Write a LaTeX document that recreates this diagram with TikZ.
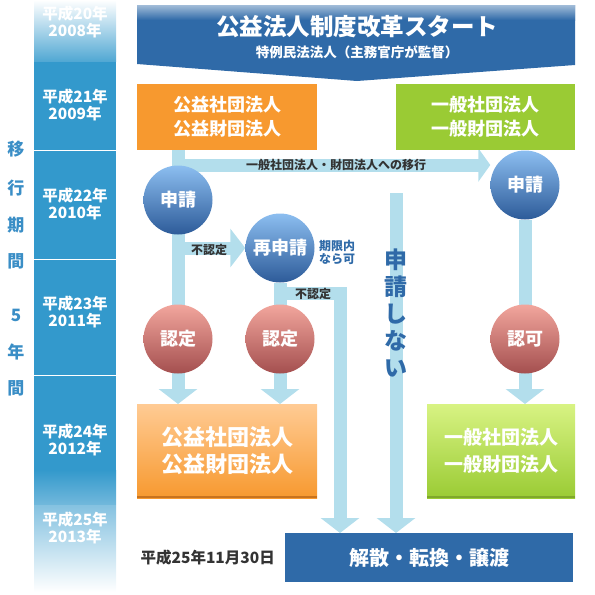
\documentclass[tikz,border=0pt]{standalone}
\usepackage{fontspec}
\setmainfont{Noto Sans CJK JP}
\usepackage{tikz}
\usetikzlibrary{arrows.meta,backgrounds,positioning}
\definecolor{Band}{HTML}{3399CC}
\definecolor{Navy}{HTML}{2F6AA8}
\definecolor{Flow}{HTML}{B3DEEC}
\definecolor{Orange}{HTML}{F7992F}
\definecolor{OrangeLight}{HTML}{FFCB94}
\definecolor{OrangeDark}{HTML}{C8731E}
\definecolor{Green}{HTML}{9ACB34}
\definecolor{GreenLight}{HTML}{D8F383}
\definecolor{GreenDark}{HTML}{7FA82A}
\definecolor{BallBlue}{HTML}{8CBEF0}
\definecolor{BallBlueDark}{HTML}{2D5B99}
\definecolor{BallRed}{HTML}{F2A69D}
\definecolor{BallRedDark}{HTML}{A44F4F}
\definecolor{Ink}{HTML}{333333}
\definecolor{SideBlue}{HTML}{3A8EC6}
\tikzset{year/.style={text=white,font=\bfseries\fontsize{15.5}{16.5}\selectfont,align=center,inner sep=0pt},org/.style={outer sep=0pt,inner sep=0pt,text=white,align=center,font=\bfseries\fontsize{18}{24}\selectfont},ball/.style={circle,minimum size=69pt,inner sep=0pt,text=white,font=\bfseries\fontsize{18}{18}\selectfont},blueball/.style={ball,top color=BallBlue,bottom color=BallBlueDark},redball/.style={ball,top color=BallRed,bottom color=BallRedDark},flow/.style={line width=13pt,draw=Flow,-{Triangle[width=38pt,length=15pt]}},tag/.style={text=Ink,font=\bfseries\fontsize{12}{13}\selectfont,inner sep=0pt,align=center},sidelabel/.style={text=SideBlue,font=\bfseries\fontsize{17}{17}\selectfont,inner sep=0pt}}

\begin{document}
\begin{tikzpicture}[x=1pt,y=-1pt]
      \useasboundingbox (0,0) rectangle (595,595);
      % year column
      \shade[top color=white,bottom color=Band!85!white] (34,0) rectangle (116,61);
      \fill[Band] (34,62) rectangle (116,150);
      \fill[Band] (34,151) rectangle (116,259);
      \fill[Band] (34,260) rectangle (116,375);
      \fill[Band] (34,376) rectangle (116,470);
      \shade[top color=Band,bottom color=Band!70!white] (34,470) rectangle (116,504);
      \shade[top color=Band!60!white,bottom color=white] (34,505) rectangle (116,592);
      \foreach \y/\a/\b in {22/20/2008,105/21/2009,204/22/2010,312/23/2011,440/24/2012,528/25/2013}
        \node[year] (year\b) at (75,\y) {平成\a 年\\\b 年};
      \foreach \ch/\y [count=\i] in {移/149,行/188,期/225,間/261,5/315,年/352,間/388}
        \node[sidelabel] (side\i) at (16,\y) {\ch};
      % banner
      \fill[Navy] (137,5) -- (575,5) -- (575,65) -- (357,81) -- (137,64) -- cycle;
      \shade[top color=Navy!45!white,bottom color=Navy] (137,5) rectangle (575,20);
      \node[text=white,font=\bfseries\fontsize{23.5}{24}\selectfont] (title) at (357,27) {公益法人制度改革スタート};
      \node[text=white,font=\bfseries\fontsize{13.5}{14}\selectfont] (subtitle) at (357,52) {特例民法法人（主務官庁が監督）};
      % organisations
      \node[org,fill=Orange,minimum width=180pt,minimum height=66pt] (orgTop) at (227,117) {公益社団法人\\公益財団法人};
      \node[org,fill=Green,minimum width=179pt,minimum height=66pt] (genTop) at (485.5,117) {一般社団法人\\一般財団法人};
      \node[org,top color=OrangeLight,bottom color=Orange,minimum width=180pt,minimum height=94pt,font=\bfseries\fontsize{22}{27}\selectfont] (koueki) at (227,451) {公益社団法人\\公益財団法人};
      \node[org,top color=GreenLight,bottom color=Green,minimum width=148pt,minimum height=94pt,font=\bfseries\fontsize{19}{27}\selectfont] (ippan) at (501,451) {一般社団法人\\一般財団法人};
      \draw[OrangeDark,line width=2pt] ([yshift=1pt]koueki.south west) -- ([yshift=1pt]koueki.south east);
      \draw[GreenDark,line width=2pt] ([yshift=1pt]ippan.south west) -- ([yshift=1pt]ippan.south east);
      \node[org,fill=Navy,minimum width=288pt,minimum height=49pt,font=\bfseries\fontsize{20}{20}\selectfont] (kaisan) at (429,557.5) {解散・転換・譲渡};
      \node[tag,left=10pt of kaisan,font=\bfseries\fontsize{15.5}{16}\selectfont] (deadlineDate) {平成25年11月30日};
      % balls
      \node[blueball] (shinseiA) at (178,200) {申請};
      \node[blueball] (saishinsei) at (280,248) {再申請};
      \node[blueball] (shinseiB) at (525,185) {申請};
      \node[redball] (ninteiA) at (178,339) {認定};
      \node[redball] (ninteiB) at (280,339) {認定};
      \node[redball] (ninka) at (525,339) {認可};
      \coordinate (fork) at (178,165);
      \coordinate (turn) at (340,293);
      \coordinate (refuse) at (396,193);
      % flows
      \begin{scope}[on background layer]
        \draw[flow] (orgTop.south -| shinseiA) -- (koueki.north -| shinseiA);
        \draw[flow,-{Triangle[width=33pt,length=12pt]}] (fork) -- (fork -| shinseiB.west);
        \draw[flow] (shinseiA |- saishinsei) -- (saishinsei.west);
        \draw[flow] (saishinsei) -- (koueki.north -| saishinsei);
        \draw[flow] (saishinsei |- turn) -- (turn) -- (turn |- kaisan.north);
        \draw[flow] (refuse) -- (refuse |- kaisan.north);
        \draw[flow] (shinseiB) -- (ippan.north -| shinseiB);
      \end{scope}
      \node[tag] (moveLbl) at (336,165) {一般社団法人・財団法人への移行};
      \node[tag] (ngA) at (209,250) {不認定};
      \node[tag] (ngB) at (313,294) {不認定};
      \node[tag,text=Navy] (okLbl) at (337,252) {期限内\\なら可};
      \node[text=Navy,align=center,inner sep=0pt,font=\bfseries\fontsize{23}{27}\selectfont] (refuseLbl) at (396,313) {申\\請\\し\\な\\い};
    \end{tikzpicture}
\end{document}
